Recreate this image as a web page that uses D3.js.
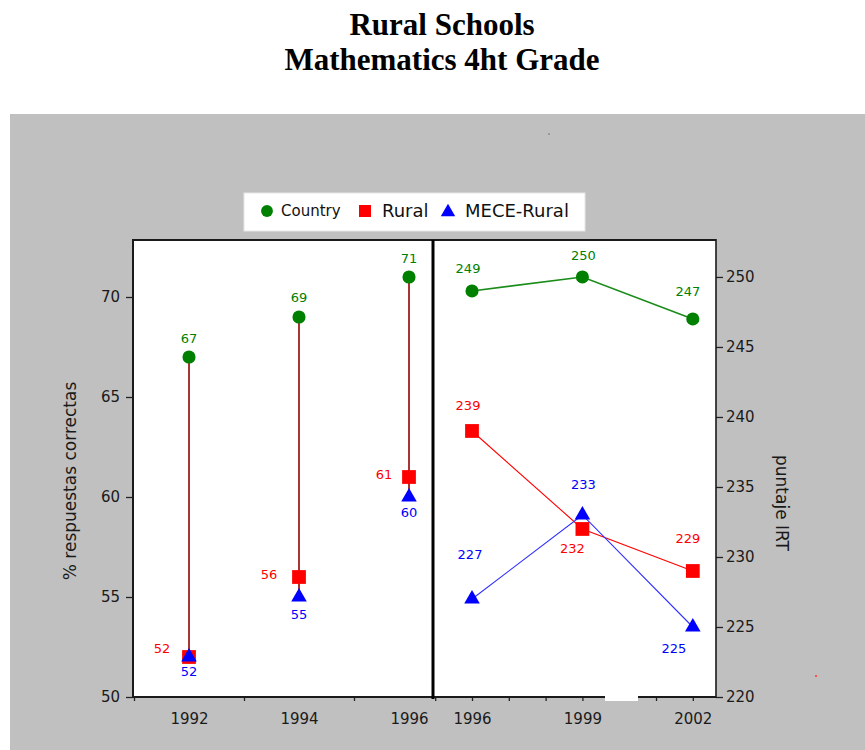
<!DOCTYPE html>
<html>
<head>
<meta charset="utf-8">
<script src="https://cdn.jsdelivr.net/npm/d3@7"></script>
<style>
  body { margin: 0; background: #fff; }
  svg { display: block; }
  .tick text { font-family: "DejaVu Sans", sans-serif; font-size: 15px; fill: #1a1a1a; }
  .tick line { stroke: #222; stroke-width: 1.3; }
  .domain { display: none; }
</style>
</head>
<body>
<svg id="vis" width="865" height="750"></svg>
<script>
// left panel: % correct answers
const leftYears = [1992, 1994, 1996];
const leftCountry = [67, 69, 71];
const leftRural = [52, 56, 61];
const leftMece = [52, 55, 60];
const leftTicks = [50, 55, 60, 65, 70];

// right panel: IRT scores
const rightYears = [1996, 1999, 2002];
const rightCountry = [249, 250, 247];
const rightRural = [239, 232, 229];
const rightMece = [227, 233, 225];
const rightTicks = [220, 225, 230, 235, 240, 245, 250];

const seriesNames = ["Country", "Rural", "MECE-Rural"];
const titleLines = ["Rural Schools", "Mathematics 4ht Grade"];

// label nudges (px from marker centre), placed by hand like the original
const nudge = {
  leftCountry: [[0, -19], [0, -20], [0, -19]],
  leftRural: [[-27, -9], [-30, -3], [-25, -3]],
  leftMece: [[0, 14], [0, 17], [0, 15]],
  rightCountry: [[-4, -23], [1, -22], [-5, -28]],
  rightRural: [[-4, -26], [-10, 19], [-5, -33]],
  rightMece: [[-2, -45], [1, -31], [-19, 21]]
};

const green = "#008000", red = "#ff0000", blue = "#0000ff";
const font = '"DejaVu Sans", sans-serif';

const svg = d3.select("svg#vis");

// frame geometry
const frameTop = 240, frameBottom = 697, frameLeft = 133, frameMid = 433, frameRight = 716;

const xL = d3.scaleLinear().domain([1991, 1996.45]).range([134, 433.75]);
const yL = d3.scaleLinear().domain([50, 72.85]).range([frameBottom, frameTop]);
const xR = d3.scaleLinear().domain([1994.94, 2002.63]).range([frameMid, frameRight]);
const yR = d3.scaleLinear().domain([220, 252.64]).range([frameBottom, frameTop]);

// gray background + title
svg.append("rect").attr("x", 10).attr("y", 114).attr("width", 855).attr("height", 636).attr("fill", "#c0c0c0");
svg.selectAll("text.title")
  .data(titleLines)
  .enter().append("text")
  .attr("class", "title")
  .attr("x", 442)
  .attr("y", (d, i) => 35 + i * 35)
  .attr("text-anchor", "middle")
  .style("font-family", '"Liberation Serif", "Times New Roman", serif')
  .style("font-weight", "bold")
  .style("font-size", "31px")
  .text(d => d);

// tiny stray pixels from the source image
svg.append("rect").attr("x", 548).attr("y", 133).attr("width", 2).attr("height", 2).attr("fill", "#9a9a9a");
svg.append("rect").attr("x", 815).attr("y", 675).attr("width", 2).attr("height", 2).attr("fill", "#ff5050");

// plot area
svg.append("rect").attr("x", frameLeft).attr("y", frameTop)
  .attr("width", frameRight - frameLeft).attr("height", frameBottom - frameTop).attr("fill", "#fff");

const plot = svg.append("g");

function marker(kind, big) {
  if (kind === 0) return d3.symbol(d3.symbolCircle, big ? 135 : 110)();
  if (kind === 1) return d3.symbol(d3.symbolSquare, big ? 190 : 144)();
  return d3.symbol(d3.symbolTriangle, big ? 105 : 90)();
}

// left: drop lines from Country to MECE-Rural
plot.selectAll("line.drop")
  .data(leftYears)
  .enter().append("line")
  .attr("class", "drop")
  .attr("x1", d => xL(d)).attr("x2", d => xL(d))
  .attr("y1", (d, i) => yL(leftCountry[i]))
  .attr("y2", (d, i) => yL(leftMece[i]))
  .attr("stroke", "#a83434")
  .attr("stroke-width", 2);

// right: series lines
const lineR = vals => d3.line().x((d, i) => xR(rightYears[i])).y(d => yR(d))(vals);
plot.append("path").attr("d", lineR(rightCountry)).attr("fill", "none").attr("stroke", "#1a8c1a").attr("stroke-width", 1.6);
plot.append("path").attr("d", lineR(rightRural)).attr("fill", "none").attr("stroke", red).attr("stroke-width", 1.1);
plot.append("path").attr("d", lineR(rightMece)).attr("fill", "none").attr("stroke", "#3030ff").attr("stroke-width", 1.1);

function drawSeries(years, vals, x, y, kind, color, offs) {
  const g = plot.append("g");
  g.selectAll("path")
    .data(vals)
    .enter().append("path")
    .attr("d", marker(kind, true))
    .attr("transform", (d, i) => "translate(" + x(years[i]) + "," + y(d) + ")")
    .attr("fill", color);
  g.selectAll("text")
    .data(vals)
    .enter().append("text")
    .attr("x", (d, i) => x(years[i]) + offs[i][0])
    .attr("y", (d, i) => y(d) + offs[i][1])
    .attr("dy", "0.36em")
    .attr("text-anchor", "middle")
    .style("font-family", font)
    .style("font-size", "13px")
    .attr("fill", color)
    .text(d => d);
}

drawSeries(leftYears, leftCountry, xL, yL, 0, green, nudge.leftCountry);
drawSeries(leftYears, leftRural, xL, yL, 1, red, nudge.leftRural);
drawSeries(leftYears, leftMece, xL, yL, 2, blue, nudge.leftMece);
drawSeries(rightYears, rightCountry, xR, yR, 0, green, nudge.rightCountry);
drawSeries(rightYears, rightRural, xR, yR, 1, red, nudge.rightRural);
drawSeries(rightYears, rightMece, xR, yR, 2, blue, nudge.rightMece);

// axes
svg.append("g").attr("transform", "translate(" + frameLeft + ",0)")
  .call(d3.axisLeft(yL).tickValues(leftTicks).tickSize(7).tickPadding(6));
svg.append("g").attr("transform", "translate(" + frameRight + ",0)")
  .call(d3.axisRight(yR).tickValues(rightTicks).tickSize(7).tickPadding(3));

svg.append("g").attr("transform", "translate(0," + frameBottom + ")")
  .call(d3.axisBottom(xL).tickValues([1991, 1993, 1995]).tickSize(4).tickFormat(""));
svg.append("g").attr("transform", "translate(0," + frameBottom + ")")
  .call(d3.axisBottom(xL).tickValues(leftYears).tickSize(0).tickPadding(16).tickFormat(d3.format("d")));
svg.append("g").attr("transform", "translate(0," + frameBottom + ")")
  .call(d3.axisBottom(xR).tickValues(d3.range(1995, 2003)).tickSize(4).tickFormat(""));
svg.append("g").attr("transform", "translate(0," + frameBottom + ")")
  .call(d3.axisBottom(xR).tickValues(rightYears).tickSize(0).tickPadding(16).tickFormat(d3.format("d")));

// frame
const frame = svg.append("g").attr("stroke", "#1a1a1a").attr("fill", "none");
frame.append("line").attr("x1", frameLeft).attr("x2", frameRight).attr("y1", frameTop).attr("y2", frameTop).attr("stroke-width", 2);
frame.append("line").attr("x1", frameLeft).attr("x2", frameRight).attr("y1", frameBottom).attr("y2", frameBottom).attr("stroke-width", 2);
frame.append("line").attr("x1", frameLeft).attr("x2", frameLeft).attr("y1", frameTop - 1).attr("y2", frameBottom + 1).attr("stroke-width", 2);
frame.append("line").attr("x1", frameRight).attr("x2", frameRight).attr("y1", frameTop - 1).attr("y2", frameBottom + 1).attr("stroke-width", 1.6);
frame.append("line").attr("x1", frameMid).attr("x2", frameMid).attr("y1", frameTop).attr("y2", frameBottom + 2).attr("stroke", "#000").attr("stroke-width", 3);

// white glitch under the right axis
svg.append("rect").attr("x", 605).attr("y", 696).attr("width", 33).attr("height", 5).attr("fill", "#fff");

// axis titles
svg.append("text")
  .attr("transform", "translate(70,481) rotate(-90)")
  .attr("dy", "0.35em")
  .attr("text-anchor", "middle")
  .style("font-family", font).style("font-size", "17px").attr("fill", "#1a1a1a")
  .text("% respuestas correctas");
svg.append("text")
  .attr("transform", "translate(782,503) rotate(90)")
  .attr("dy", "0.35em")
  .attr("text-anchor", "middle")
  .style("font-family", font).style("font-size", "17px").attr("fill", "#1a1a1a")
  .text("puntaje IRT");

// legend
const legend = svg.append("g").attr("id", "legend");
legend.append("rect").attr("x", 244).attr("y", 193).attr("width", 341).attr("height", 38)
  .attr("fill", "#fff").attr("stroke", "#e6e6e6");
const legendX = [267, 365, 448];
const legendColors = [green, red, blue];
const legendSize = [15, 18, 18];
seriesNames.forEach(function(name, i) {
  legend.append("path")
    .attr("d", marker(i, false))
    .attr("transform", "translate(" + legendX[i] + "," + (i === 2 ? 212 : 211) + ")")
    .attr("fill", legendColors[i]);
  legend.append("text")
    .attr("x", legendX[i] + (i === 0 ? 14 : 17))
    .attr("y", 211)
    .attr("dy", "0.36em")
    .style("font-family", font)
    .style("font-size", legendSize[i] + "px")
    .attr("fill", "#111")
    .text(name);
});
</script>
</body>
</html>
